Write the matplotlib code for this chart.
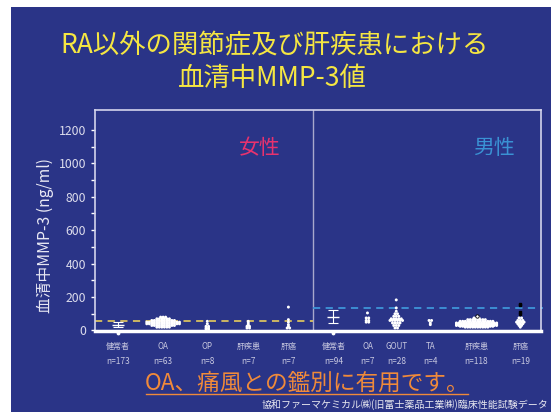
import numpy as np
import matplotlib
matplotlib.use("Agg")
import matplotlib.pyplot as plt
from matplotlib.patches import Rectangle

plt.rcParams["font.family"] = ["Noto Sans CJK JP", "DejaVu Sans"]

W, H = 551, 412

# category labels (female block, then male block)
labels_f = ["健常者", "OA", "OP", "肝疾患", "肝癌"]
n_f = ["n=173", "n=63", "n=8", "n=7", "n=7"]
labels_m = ["健常者", "OA", "GOUT", "TA", "肝疾患", "肝癌"]
n_m = ["n=94", "n=7", "n=28", "n=4", "n=118", "n=19"]

# category positions on the x axis
xpos_f = [0.57, 1.68, 2.77, 3.78, 4.77]
xpos_m = [5.88, 6.72, 7.43, 8.27, 9.41, 10.49]
divider_x = 5.38

# cut-off lines (ng/ml)
cutoff_f = 54
cutoff_m = 137

# healthy controls shown as mean +/- SD
healthy_f_mean, healthy_f_sd = 35, 13
healthy_m_mean, healthy_m_sd = 82, 38
healthy_low_dot = -15

# dot plots: value levels and number of dots at each level
oa_f_levels = [80, 70, 60, 50, 40, 30, 20]
oa_f_counts = [3, 6, 10, 14, 14, 10, 6]
op_f_levels = [55, 40, 25, 15, 8]
op_f_counts = [1, 1, 2, 2, 2]
liver_f_levels = [55, 45, 35, 25, 15]
liver_f_counts = [1, 1, 1, 2, 2]
hcc_f_levels = [140, 65, 50, 35, 25, 15]
hcc_f_counts = [1, 1, 1, 1, 1, 2]

oa_m_levels = [105, 75, 60, 50]
oa_m_counts = [1, 2, 2, 2]
gout_m_levels = [183, 135, 115, 100, 85, 70, 60, 45, 30, 15]
gout_m_counts = [1, 1, 1, 2, 3, 5, 6, 4, 3, 2]
ta_m_levels = [60, 45, 35]
ta_m_counts = [2, 1, 1]
liver_m_levels = [85, 75, 65, 55, 45, 40, 35, 30, 25, 20]
liver_m_counts = [1, 3, 8, 14, 17, 17, 17, 17, 14, 10]
hcc_m_levels = [75, 60, 50, 40, 30, 20]
hcc_m_counts = [2, 3, 4, 3, 2, 1]
hcc_m_black = [160, 150, 110, 100]

bg = "#2a3487"
white = "#ffffff"
pale = "#c8c8e0"


def px(x, y):
    return x / W, 1 - y / H


fig = plt.figure(figsize=(W / 100, H / 100), dpi=100, facecolor="white")
fig.patches.append(Rectangle(px(11, 412), 1, 1 - 7 / H, transform=fig.transFigure,
                             facecolor=bg, edgecolor="none", zorder=-10))

ax = fig.add_axes([95 / W, 1 - 331 / H, (541 - 95) / W, (331 - 110) / H])
ax.set_facecolor(bg)
ax.set_xlim(0, 11)
ax.set_ylim(-3, 1319)

dx = 0.062


def dots(x0, levels, counts, color=white, edge=None):
    xs, ys = [], []
    for lv, c in zip(levels, counts):
        for k in range(c):
            xs.append(x0 + (k - (c - 1) / 2) * dx)
            ys.append(lv)
    ax.scatter(xs, ys, s=4.5, color=color, edgecolors=edge or "none", linewidths=0.5,
               zorder=3, clip_on=False)


dots(xpos_f[1], oa_f_levels, oa_f_counts)
dots(xpos_f[2], op_f_levels, op_f_counts)
dots(xpos_f[3], liver_f_levels, liver_f_counts)
dots(xpos_f[4], hcc_f_levels, hcc_f_counts)

dots(xpos_m[1], oa_m_levels, oa_m_counts)
dots(xpos_m[2], gout_m_levels, gout_m_counts)
dots(xpos_m[3], ta_m_levels, ta_m_counts)
dots(xpos_m[4], liver_m_levels[1:], liver_m_counts[1:])
ax.scatter([xpos_m[4]], [liver_m_levels[0]], s=6, color=white, edgecolors="black",
           linewidths=0.6, zorder=4)
dots(xpos_m[5], hcc_m_levels, hcc_m_counts)
ax.scatter([xpos_m[5]] * len(hcc_m_black), hcc_m_black, s=4, color="black",
           marker="s", zorder=4)

for x0, m, sd in [(xpos_f[0], healthy_f_mean, healthy_f_sd),
                  (xpos_m[0], healthy_m_mean, healthy_m_sd)]:
    ax.errorbar([x0], [m], yerr=[sd], fmt="_", color=white, ms=8, lw=0.8,
                capsize=3.5, capthick=0.8, zorder=3)
    ax.scatter([x0], [healthy_low_dot], s=3, color=white, zorder=3, clip_on=False)

# cut-off lines and divider
ax.plot([0, divider_x], [cutoff_f, cutoff_f], ls=(0, (4, 3)), color="#d8c060", lw=1.3, zorder=2)
ax.plot([divider_x, 11.05], [cutoff_m, cutoff_m], ls=(0, (4, 3)), color="#3f95d8",
        lw=1.3, zorder=2, clip_on=False)
ax.axvline(divider_x, color="#a8a8cc", lw=1, zorder=1)

for s in ["top", "right", "left"]:
    ax.spines[s].set_color("#d4d4ec")
    ax.spines[s].set_linewidth(1.2)
ax.spines["bottom"].set_color(white)
ax.spines["bottom"].set_linewidth(2.5)

ax.set_yticks(range(0, 1201, 200))
ax.set_yticks(range(100, 1201, 200), minor=True)
ax.tick_params(axis="y", which="both", colors=white, labelcolor="#dcdcec",
               labelsize=8.8, length=3, width=1, direction="out")
ax.set_xticks([])
ax.set_ylabel("血清中MMP-3 (ng/ml)", color="#e8e8f4", fontsize=11.3)
ax.yaxis.set_label_coords(-0.092, 0.434)

ax.text(4.07, 1092, "女性", color="#e8326e", fontsize=15, ha="center", va="center")
ax.text(9.83, 1092, "男性", color="#3a92d4", fontsize=15, ha="center", va="center")

for x0, lb, nn in zip(xpos_f + xpos_m, labels_f + labels_m, n_f + n_m):
    ax.text(x0, -95, lb, color=pale, fontsize=5.8, ha="center", va="center")
    ax.text(x0, -185, nn, color=pale, fontsize=6, ha="center", va="center")

ty = "#f5e642"
fig.text(*px(275, 46), "RA以外の関節症及び肝疾患における", color=ty, fontsize=19,
         ha="center", va="center")
fig.text(*px(272, 79), "血清中MMP-3値", color=ty, fontsize=19, ha="center", va="center")

fig.text(*px(307, 383), "OA、痛風との鑑別に有用です。", color="#f08a3a", fontsize=16.3,
         ha="center", va="center")
fig.lines.append(plt.Line2D([146 / W, 468 / W], [1 - 394 / H] * 2, transform=fig.transFigure,
                            color="#f08a3a", lw=1))
fig.text(*px(548, 405), "協和ファーマケミカル㈱(旧富士薬品工業㈱)臨床性能試験データ",
         color="#e8e8f0", fontsize=7.2, ha="right", va="center")

fig.savefig("out.png", dpi=100, facecolor=fig.get_facecolor())
